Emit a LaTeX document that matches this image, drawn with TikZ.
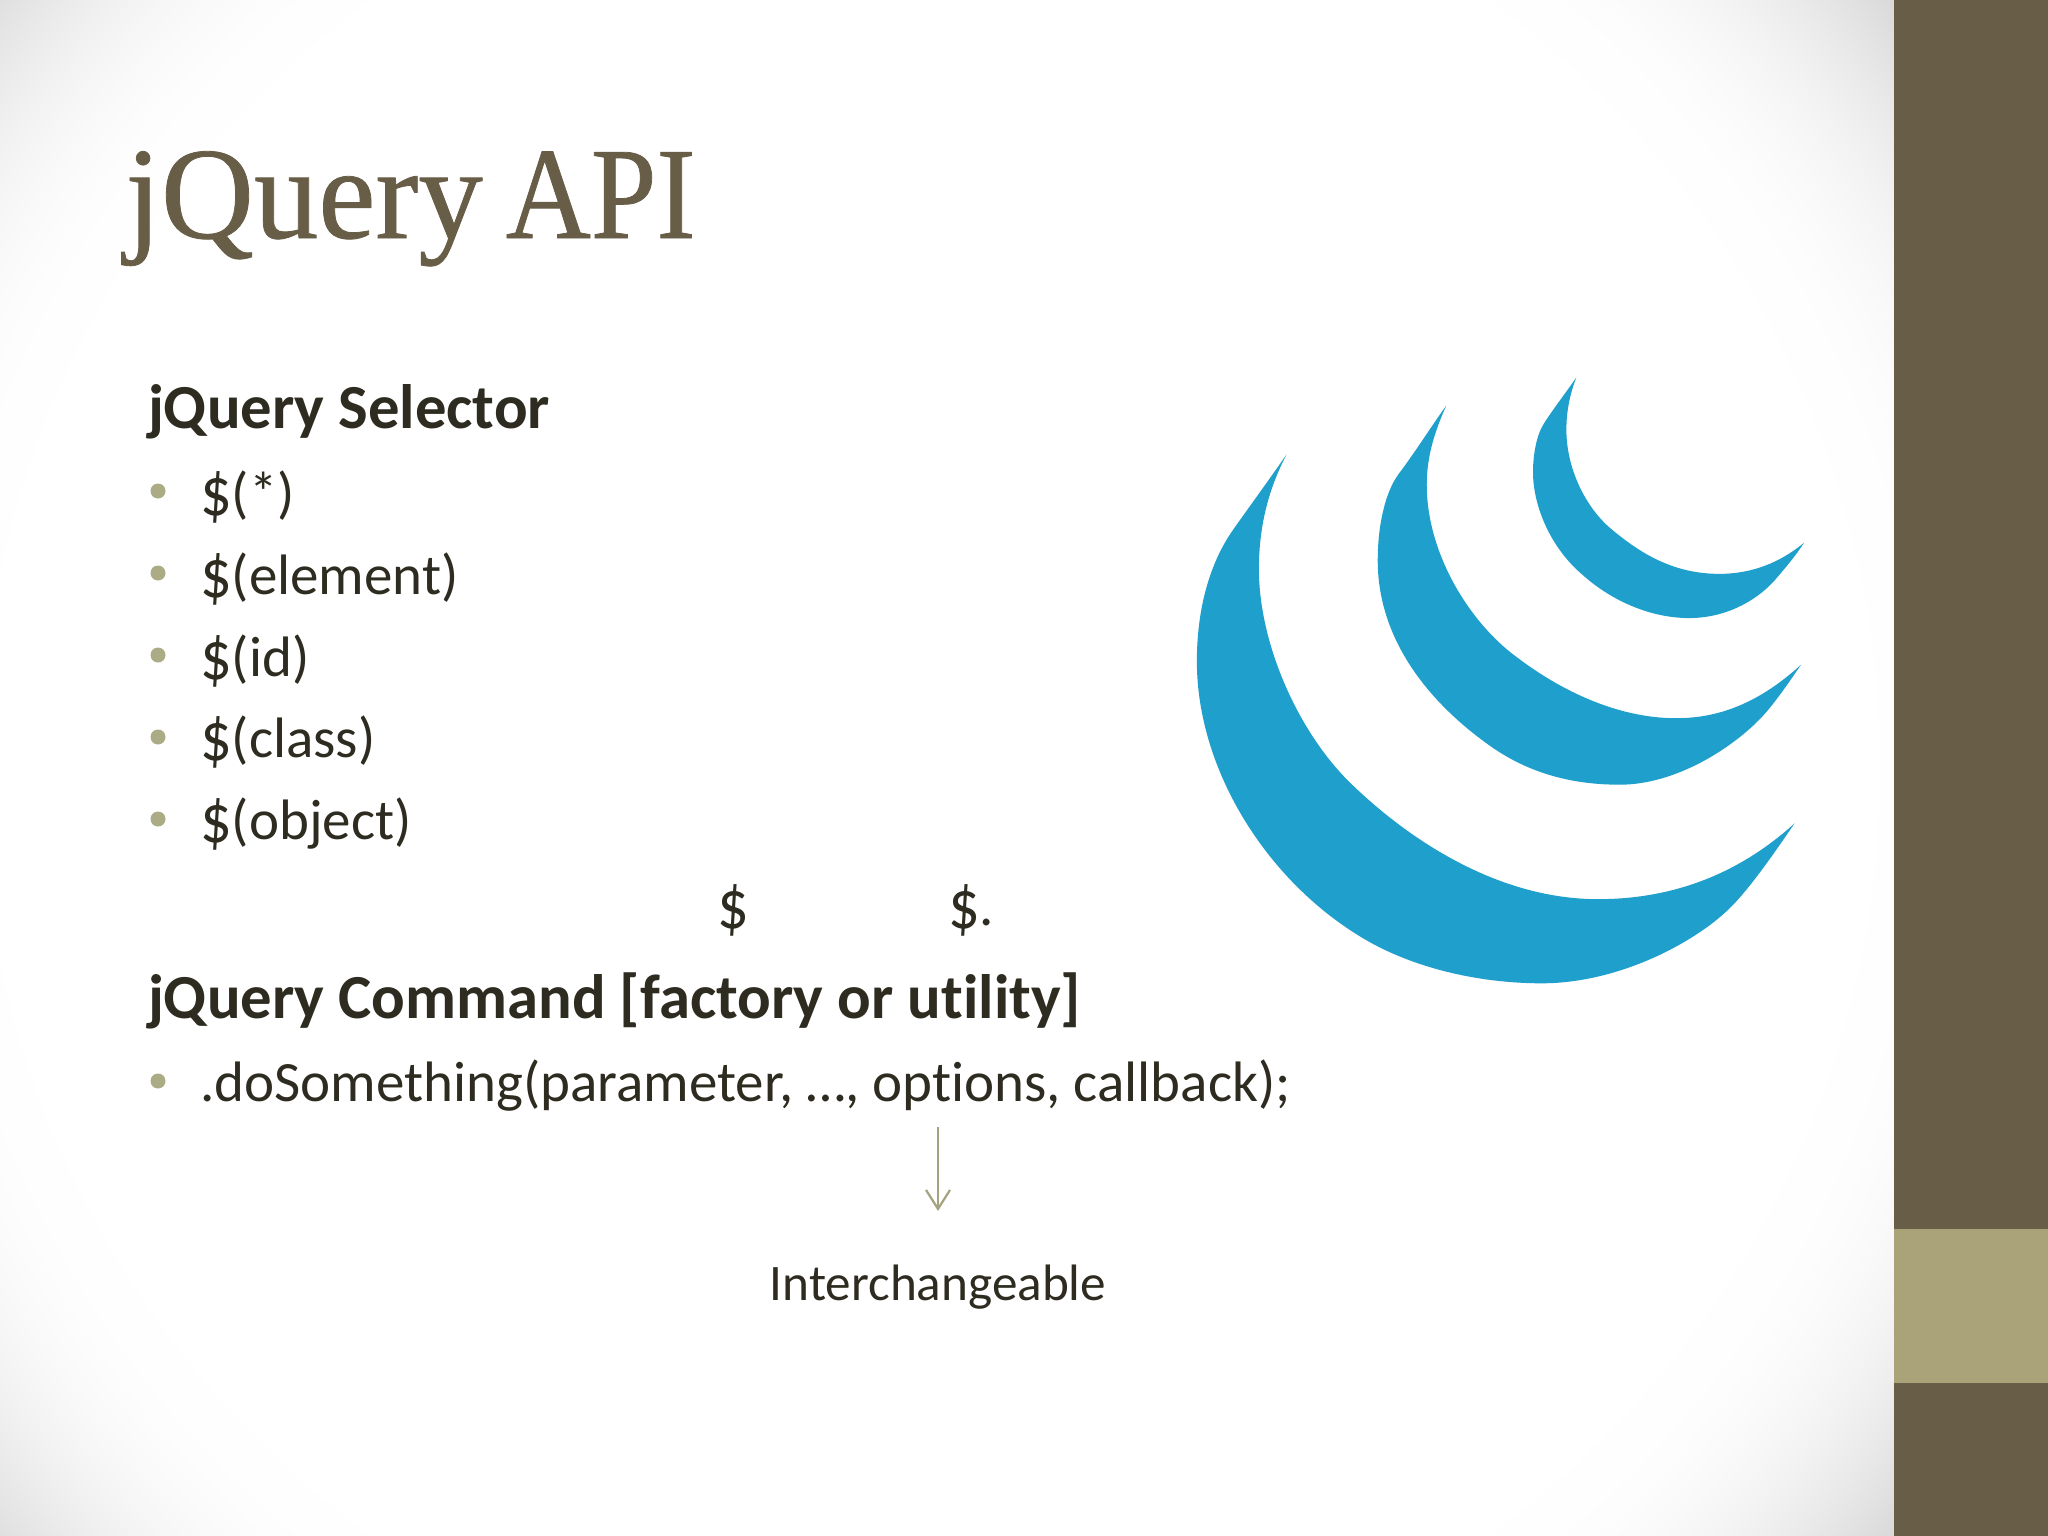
\documentclass[tikz,border=0pt]{standalone}
\usepackage{fontspec}
\usepackage{graphicx}
\setmainfont[Ligatures=NoCommon]{Carlito}
\newfontfamily\titlefont[FakeBold=0.6]{Liberation Serif}
\usetikzlibrary{arrows.meta}
\definecolor{sidebar}{HTML}{685D46}
\definecolor{accent}{HTML}{AAA37A}
\definecolor{bulletink}{HTML}{ABAB85}
\definecolor{arrowink}{HTML}{A5A27F}
\definecolor{bodyink}{HTML}{2E2C20}
\definecolor{logoblue}{HTML}{1F9FCB}
\newcommand{\bigdollar}{\raisebox{-3pt}{\scalebox{1.1}[1.22]{\$}}}
\tikzset{
  x=1pt,y=-1pt,
  bodytext/.style={anchor=base west,inner sep=0pt,outer sep=0pt,text=bodyink,font=\fontsize{57}{62}\selectfont},
  headtext/.style={anchor=base west,inner sep=0pt,outer sep=0pt,text=bodyink,font=\fontsize{62.7}{66}\selectfont\bfseries},
  bulletdot/.style={circle,fill=bulletink,draw=none,minimum size=15pt,inner sep=0pt},
  logofill/.style={fill=logoblue,draw=none},
  lightarrow/.style={draw=arrowink,line width=2.2pt,-{Straight Barb[length=19pt,width=24pt,line width=2.2pt]}}
}
\begin{document}
\begin{tikzpicture}
\useasboundingbox (0,0) rectangle (2048,1536);
\begin{scope}
\clip (0,0) rectangle (1894,1536);
\fill[color={rgb,255:red,205;green,205;blue,205}] (0,0) rectangle (1894,1536);
\foreach \i in {50,49,...,0}{
  \pgfmathsetmacro{\rr}{950+46*sqrt(\i)}
  \pgfmathtruncatemacro{\gv}{255-\i}
  \fill[color={rgb,255:red,\gv;green,\gv;blue,\gv}] (930,768) circle [radius=\rr];
}
\end{scope}
\fill[sidebar] (1894,0) rectangle (2048,1536);
\fill[accent] (1894,1229) rectangle (2048,1383);
\node[anchor=base west,inner sep=0pt,text=sidebar,font=\titlefont\fontsize{131}{135}\selectfont] (title) at (125,238) {\scalebox{0.983}[1]{jQuery}\hspace{23pt}\scalebox{0.9}[1]{API}};
\node[headtext] (sel) at (148,428) {jQuery Selector};
\node[bulletdot] (b1) at (158,491) {};
\node[bodytext] (i1) at (200,512) {\bigdollar(*)};
\node[bulletdot] (b2) at (158,573) {};
\node[bodytext] (i2) at (200,594) {\bigdollar(element)};
\node[bulletdot] (b3) at (158,655) {};
\node[bodytext] (i3) at (200,676) {\bigdollar(id)};
\node[bulletdot] (b4) at (158,737) {};
\node[bodytext] (i4) at (200,757) {\bigdollar(class)};
\node[bulletdot] (b5) at (158,819) {};
\node[bodytext] (i5) at (200,839) {\bigdollar(object)};
\node[bodytext] (d1) at (717,925) {\bigdollar};
\node[bodytext] (d2) at (948,925) {\bigdollar.};
\node[headtext] (cmd) at (148,1018) {jQuery Command [factory or utility]};
\node[bulletdot] (b6) at (158,1081) {};
\node[bodytext] (call) at (200,1101) {.doSomething(parameter, …, options, callback);};
\node[anchor=base,inner sep=0pt,text=bodyink,font=\fontsize{51.2}{54}\selectfont] (inter) at (938,1300) {Interchangeable};
\coordinate (arrowstart) at (938,1127);
\coordinate (arrowend) at (938,1211);
\draw[lightarrow] (arrowstart) -- (arrowend);
\begin{scope}[shift={(1160,350)},xscale=0.4337,yscale=0.4208]
\fill[logofill] (292,248) .. controls (240,325) and (200,381) .. (170,425) .. controls (108,515) and (85,630) .. (85,740) .. controls (85,1000) and (250,1270) .. (480,1405) .. controls (600,1475) and (750,1505) .. (880,1505) .. controls (1060,1505) and (1240,1405) .. (1320,1320) .. controls (1365,1272) and (1420,1190) .. (1463,1125) .. controls (1340,1240) and (1190,1305) .. (1010,1305) .. controls (780,1305) and (575,1165) .. (440,1030) .. controls (320,910) and (228,700) .. (228,520) .. controls (228,420) and (250,330) .. (292,248) -- cycle;
\fill[logofill] (660,132) .. controls (620,190) and (590,240) .. (550,295) .. controls (518,340) and (502,420) .. (502,500) .. controls (502,680) and (610,830) .. (760,940) .. controls (850,1006) and (950,1033) .. (1060,1033) .. controls (1190,1033) and (1320,945) .. (1385,875) .. controls (1415,843) and (1450,790) .. (1478,748) .. controls (1390,830) and (1300,875) .. (1190,875) .. controls (1050,875) and (915,805) .. (810,720) .. controls (709,638) and (615,480) .. (615,320) .. controls (615,250) and (635,190) .. (660,132) -- cycle;
\fill[logofill] (960,65) .. controls (930,110) and (910,135) .. (885,175) .. controls (868,202) and (860,250) .. (860,290) .. controls (860,370) and (900,470) .. (975,535) .. controls (1040,595) and (1130,637) .. (1220,637) .. controls (1300,637) and (1370,600) .. (1415,550) .. controls (1440,520) and (1465,490) .. (1485,458) .. controls (1430,505) and (1365,532) .. (1290,532) .. controls (1190,532) and (1115,490) .. (1040,425) .. controls (980,373) and (937,280) .. (937,190) .. controls (937,145) and (945,105) .. (960,65) -- cycle;
\end{scope}
\end{tikzpicture}
\end{document}
